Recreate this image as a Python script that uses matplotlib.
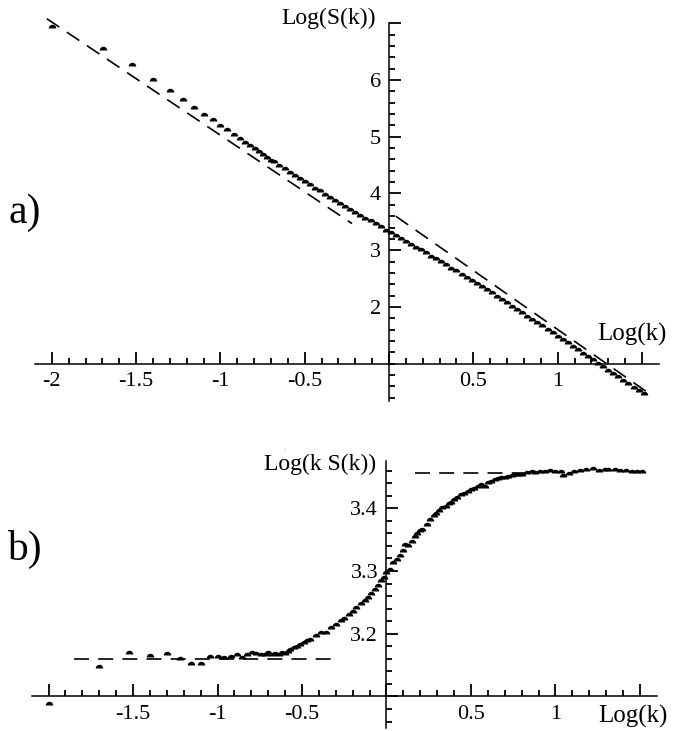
import matplotlib
matplotlib.use("Agg")
import matplotlib.pyplot as plt

plt.rcParams['font.family'] = ['Liberation Serif', 'DejaVu Serif']
plt.rcParams['axes.unicode_minus'] = False

# ---------------- data: panel a) Log(S(k)) vs Log(k) ----------------
a_x = [-2.0, -1.699, -1.523, -1.398, -1.301, -1.222, -1.155, -1.097, -1.046, -1.0,
       -0.959, -0.921, -0.886, -0.854, -0.824, -0.796, -0.770, -0.745, -0.721, -0.699,
       -0.68, -0.65, -0.62, -0.59, -0.56, -0.53, -0.50, -0.47, -0.44, -0.41,
       -0.38, -0.35, -0.32, -0.29, -0.26, -0.23, -0.20, -0.17, -0.14, -0.11,
       -0.08, -0.05, -0.02, 0.01, 0.04, 0.07, 0.10, 0.13, 0.16, 0.19,
       0.22, 0.25, 0.28, 0.31, 0.34, 0.37, 0.40, 0.43, 0.46, 0.49,
       0.52, 0.55, 0.58, 0.61, 0.64, 0.67, 0.70, 0.73, 0.76, 0.79,
       0.82, 0.85, 0.88, 0.91, 0.94, 0.97, 1.00, 1.03, 1.06, 1.09,
       1.12, 1.15, 1.18, 1.21, 1.24, 1.27, 1.30, 1.33, 1.36, 1.39,
       1.42, 1.45, 1.48, 1.51]
a_y = [6.91, 6.52, 6.24, 5.98, 5.79, 5.63, 5.49, 5.37, 5.27, 5.18,
       5.10, 5.02, 4.95, 4.88, 4.82, 4.76, 4.71, 4.66, 4.61, 4.56,
       4.53, 4.47, 4.41, 4.35, 4.29, 4.24, 4.18, 4.13, 4.07, 4.02,
       3.96, 3.91, 3.85, 3.80, 3.75, 3.69, 3.64, 3.59, 3.54, 3.49,
       3.44, 3.39, 3.33, 3.28, 3.23, 3.18, 3.13, 3.08, 3.03, 2.98,
       2.93, 2.87, 2.82, 2.77, 2.72, 2.66, 2.61, 2.55, 2.50, 2.44,
       2.39, 2.33, 2.28, 2.22, 2.16, 2.11, 2.05, 1.99, 1.93, 1.87,
       1.81, 1.76, 1.70, 1.64, 1.58, 1.52, 1.46, 1.40, 1.34, 1.28,
       1.22, 1.16, 1.10, 1.04, 0.98, 0.92, 0.86, 0.80, 0.74, 0.68,
       0.62, 0.56, 0.50, 0.44]
# dashed asymptotes in a)
a_line1_x = [-2.03, -0.22]
a_line1_y = [7.08, 3.47]
a_line2_x = [0.04, 1.55]
a_line2_y = [3.60, 0.46]

a_xticks = [-2, -1.5, -1, -0.5, 0, 0.5, 1, 1.5]
a_xticklabels = ['-2', '-1.5', '-1', '-0.5', '', '0.5', '1', '']
a_yticks = [2, 3, 4, 5, 6, 7]
a_yticklabels = ['2', '3', '4', '5', '6', '']

# ---------------- data: panel b) Log(k^2 S(k)) vs Log(k) ----------------
b_x = [-2.0, -1.699, -1.523, -1.398, -1.301, -1.222, -1.155, -1.097, -1.046, -1.0,
       -0.959, -0.921, -0.886, -0.854, -0.824, -0.796, -0.770, -0.745, -0.721, -0.699,
       -0.678, -0.658, -0.638, -0.62, -0.60, -0.585, -0.57, -0.55, -0.53, -0.51,
       -0.49, -0.47, -0.45, -0.42, -0.39, -0.36, -0.33, -0.30, -0.27, -0.25,
       -0.22, -0.20, -0.18, -0.15, -0.13, -0.11, -0.09, -0.07, -0.05, -0.03,
       -0.015, 0.0, 0.02, 0.04, 0.06, 0.08, 0.10, 0.11, 0.13, 0.15,
       0.17, 0.18, 0.20, 0.21, 0.24, 0.26, 0.28, 0.29, 0.31, 0.33,
       0.35, 0.37, 0.38, 0.40, 0.42, 0.44, 0.46, 0.48, 0.50, 0.52,
       0.54, 0.56, 0.58, 0.60, 0.62, 0.64, 0.66, 0.68, 0.70, 0.72,
       0.74, 0.76, 0.78, 0.80, 0.83, 0.86, 0.88, 0.91, 0.94, 0.97,
       1.00, 1.035, 1.045, 1.08, 1.11, 1.145, 1.18, 1.22, 1.26, 1.29,
       1.31, 1.35, 1.38, 1.42, 1.45, 1.48, 1.51]
b_y = [3.087, 3.145, 3.167, 3.163, 3.166, 3.158, 3.150, 3.150, 3.162, 3.161,
       3.160, 3.162, 3.164, 3.159, 3.165, 3.168, 3.166, 3.165, 3.164, 3.167,
       3.165, 3.166, 3.164, 3.167, 3.166, 3.169, 3.172, 3.175, 3.178, 3.181,
       3.183, 3.186, 3.189, 3.195, 3.199, 3.200, 3.208, 3.213, 3.218, 3.222,
       3.229, 3.233, 3.240, 3.246, 3.250, 3.256, 3.262, 3.268, 3.275, 3.282,
       3.288, 3.295, 3.300, 3.311, 3.316, 3.322, 3.331, 3.340, 3.338, 3.345,
       3.352, 3.357, 3.362, 3.364, 3.371, 3.379, 3.386, 3.390, 3.394, 3.399,
       3.401, 3.405, 3.407, 3.411, 3.414, 3.419, 3.421, 3.425, 3.428, 3.429,
       3.433, 3.436, 3.432, 3.439, 3.441, 3.443, 3.445, 3.446, 3.447, 3.449,
       3.450, 3.451, 3.452, 3.452, 3.455, 3.456, 3.454, 3.456, 3.457, 3.458,
       3.456, 3.457, 3.450, 3.453, 3.456, 3.458, 3.459, 3.461, 3.458, 3.459,
       3.460, 3.459, 3.458, 3.458, 3.457, 3.457, 3.457]
b_low_x = [-1.85, -0.285]
b_low_y = [3.160, 3.160]
b_high_x = [0.17, 0.85]
b_high_y = [3.457, 3.457]

b_xticks = [-2, -1.5, -1, -0.5, 0, 0.5, 1, 1.5]
b_xticklabels = ['', '-1.5', '-1', '-0.5', '', '0.5', '1', '']
b_yticks = [3.1, 3.2, 3.3, 3.4]
b_yticklabels = ['', '3.2', '3.3', '3.4']

W, H = 673, 731
fig = plt.figure(figsize=(W / 100, H / 100), dpi=100)


def px_axes(x0, x1, ytop, ybot):
    return fig.add_axes([x0 / W, 1 - ybot / H, (x1 - x0) / W, (ybot - ytop) / H])


def style(ax, xlim, ylim, yorig, xt, xtl, xminor, yt, ytl, yminor):
    ax.set_xlim(xlim)
    ax.set_ylim(ylim)
    ax.patch.set_alpha(0)
    for s in ['top', 'right']:
        ax.spines[s].set_visible(False)
    ax.spines['left'].set_position(('data', 0))
    ax.spines['bottom'].set_position(('data', yorig))
    for s in ['left', 'bottom']:
        ax.spines[s].set_linewidth(1.1)
    ax.xaxis.set_ticks_position('bottom')
    ax.yaxis.set_ticks_position('left')
    ax.set_xticks(xt)
    ax.set_xticklabels(xtl)
    ax.set_xticks(xminor, minor=True)
    ax.set_yticks(yt)
    ax.set_yticklabels(ytl)
    ax.set_yticks(yminor, minor=True)
    ax.tick_params(which='major', direction='in', length=8.5, width=1.3, pad=6,
                   labelsize=16, color='black')
    ax.tick_params(which='minor', direction='in', length=4.5, width=1.3,
                   color='black')


dash = dict(color='black', lw=1.2, dashes=(9, 5.5), clip_on=False)
mk = dict(ls='none', marker='o', ms=5.4, fillstyle='top', color='black',
          markerfacecoloralt='none', mew=0, clip_on=False)

# ---- panel a ----
axa = px_axes(35.0, 658.8, 23.25, 400.6)
xminor = [round(-2.0 + 0.1 * i, 2) for i in range(0, 36)]
style(axa, (-2.1, 1.6), (0.35, 7.0), 1.0,
      a_xticks, a_xticklabels, xminor,
      a_yticks, a_yticklabels, [round(0.4 + 0.2 * i, 2) for i in range(0, 34)])
axa.plot(a_line1_x, a_line1_y, **dash)
axa.plot(a_line2_x, a_line2_y, **dash)
axa.plot(a_x, a_y, **mk)

# ---- panel b ----
axb = px_axes(31.6, 656.9, 460.6, 727.8)
style(axb, (-2.1, 1.6), (3.05, 3.476), 3.1,
      b_xticks, b_xticklabels, xminor,
      b_yticks, b_yticklabels, [round(3.06 + 0.02 * i, 2) for i in range(0, 21)])
axb.plot(b_low_x, b_low_y, **dash)
axb.plot(b_high_x, b_high_y, **dash)
axb.plot(b_x, b_y, **mk)


def ftext(x, y, s, **kw):
    fig.text(x / W, 1 - y / H, s, **kw)


ftext(376, 18, 'Log(S(k))', ha='right', va='center', fontsize=17)
ftext(667, 334, 'Log(k)', ha='right', va='center', fontsize=18)
ftext(376, 464, 'Log(k S(k))', ha='right', va='center', fontsize=17)
ftext(285, 450, '2', ha='center', va='center', fontsize=3, color='#aaaaaa')
ftext(668, 716, 'Log(k)', ha='right', va='center', fontsize=18)
ftext(9, 213, 'a)', ha='left', va='center', fontsize=30)
ftext(7, 549, 'b)', ha='left', va='center', fontsize=30)

fig.savefig('out.png', dpi=100)
